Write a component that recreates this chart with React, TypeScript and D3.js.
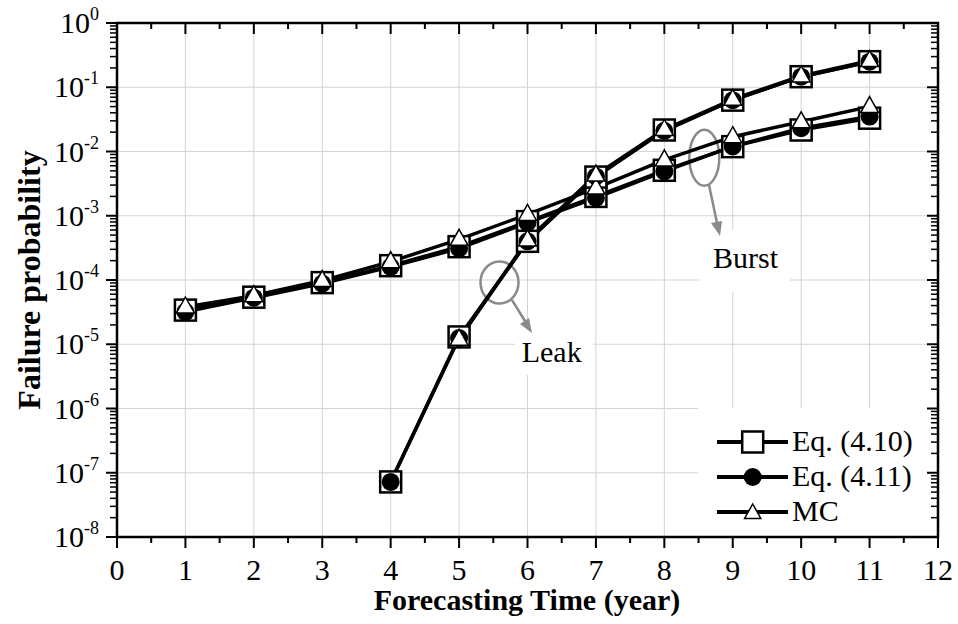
import React from "react";
import * as d3 from "d3";

const W = 958;
const H = 624;

const burstYears = [1, 2, 3, 4, 5, 6, 7, 8, 9, 10, 11];
const burstEq410 = [3.4e-5, 5.4e-5, 9.1e-5, 1.67e-4, 3.3e-4, 8.1e-4, 2.0e-3, 5.1e-3, 1.19e-2, 2.16e-2, 3.3e-2];
const burstEq411 = [3.2e-5, 5.3e-5, 8.8e-5, 1.6e-4, 3.1e-4, 7.8e-4, 1.9e-3, 4.9e-3, 1.2e-2, 2.3e-2, 3.5e-2];
const burstMC = [3.8e-5, 5.7e-5, 9.8e-5, 1.93e-4, 4.3e-4, 1.05e-3, 2.7e-3, 7.4e-3, 1.7e-2, 2.9e-2, 5.0e-2];

const leakYears = [4, 5, 6, 7, 8, 9, 10, 11];
const leakEq410 = [7.2e-8, 1.3e-5, 4.0e-4, 4.0e-3, 2.16e-2, 6.3e-2, 0.146, 0.25];
const leakEq411 = [7.2e-8, 1.25e-5, 4.0e-4, 4.1e-3, 2.1e-2, 6.3e-2, 0.146, 0.25];
const leakMCYears = [5, 6, 7, 8, 9, 10, 11];
const leakMC = [1.2e-5, 4.2e-4, 4.3e-3, 2.2e-2, 6.5e-2, 0.15, 0.26];

const xTicks = [0, 1, 2, 3, 4, 5, 6, 7, 8, 9, 10, 11, 12];
const yExponents = [0, -1, -2, -3, -4, -5, -6, -7, -8];
const legendLabels = ["Eq. (4.10)", "Eq. (4.11)", "MC"];

const FONT = "'Liberation Serif', 'Times New Roman', serif";

const x = d3.scaleLinear().domain([0, 12]).range([117, 938]);
const y = d3.scaleLog().domain([1e-8, 1]).range([537, 23]);

type P = [number, number];
const zip = (xs: number[], ys: number[]): P[] => xs.map((v, i) => [v, ys[i]]);

const line = d3
  .line<P>()
  .x((d) => x(d[0]))
  .y((d) => y(d[1]));

const tri = (cx: number, cy: number, s = 1) =>
  `M${cx},${cy - 10 * s}L${cx + 9 * s},${cy + 6 * s}L${cx - 9 * s},${cy + 6 * s}Z`;

const Square = ({ cx, cy, s = 1 }: { cx: number; cy: number; s?: number }) => (
  <rect x={cx - 10.5 * s} y={cy - 10.5 * s} width={21 * s} height={21 * s} fill="#fff" stroke="#000" strokeWidth={2.5} />
);
const Dot = ({ cx, cy, s = 1 }: { cx: number; cy: number; s?: number }) => (
  <circle cx={cx} cy={cy} r={9 * s} fill="#000" />
);
const Tri = ({ cx, cy, s = 1 }: { cx: number; cy: number; s?: number }) => (
  <path d={tri(cx, cy, s)} fill="#fff" stroke="#000" strokeWidth={1.5} />
);

export default function App() {
  const squares = [...zip(burstYears, burstEq410), ...zip(leakYears, leakEq410)];
  const dots = [...zip(burstYears, burstEq411), ...zip(leakYears, leakEq411)];
  const tris = [...zip(burstYears, burstMC), ...zip(leakMCYears, leakMC)];
  const lines = [
    zip(burstYears, burstEq410),
    zip(burstYears, burstEq411),
    zip(burstYears, burstMC),
    zip(leakYears, leakEq410),
    zip(leakYears, leakEq411),
    zip(leakMCYears, leakMC),
  ];

  const [x0, x1] = x.range();
  const [yb, yt] = y.range();

  const minorX = d3.range(0.5, 12, 1);
  const minorY: number[] = [];
  for (let e = -8; e < 0; e++) for (let k = 2; k <= 9; k++) minorY.push(k * Math.pow(10, e));

  const legendRows = [442, 477, 512];

  return (
    <svg width={W} height={H} style={{ position: "absolute", left: 0, top: 0, background: "#fff" }} fontFamily={FONT}>
      <rect x={0} y={0} width={W} height={H} fill="#fff" />
      {/* grid */}
      {xTicks.slice(1, -1).map((t) => (
        <line key={"gx" + t} x1={x(t)} x2={x(t)} y1={yt} y2={yb} stroke="#d4d4d4" strokeWidth={1} />
      ))}
      {yExponents.slice(1, -1).map((e) => (
        <line key={"gy" + e} x1={x0} x2={x1} y1={y(Math.pow(10, e))} y2={y(Math.pow(10, e))} stroke="#d4d4d4" strokeWidth={1} />
      ))}
      {/* white label backgrounds */}
      <rect x={698} y={408} width={238} height={128} fill="#fff" />
      <rect x={700} y={230} width={90} height={62} fill="#fff" />
      <rect x={515} y={322} width={78} height={53} fill="#fff" />

      {/* annotations */}
      <g stroke="#8a8a8a" fill="none" strokeWidth={2.5}>
        <ellipse cx={499.5} cy={282.5} rx={19} ry={21} />
        <ellipse cx={704.3} cy={157.7} rx={15} ry={28} />
        <line x1={512} y1={300} x2={525} y2={321} />
        <line x1={709} y1={185} x2={717} y2={223} />
      </g>
      <path d="M532,333 L520,324 L529,318 Z" fill="#8a8a8a" />
      <path d="M720,236 L711,223 L722,221 Z" fill="#8a8a8a" />
      <text x={521.7} y={361.7} fontSize={30} fill="#000">Leak</text>
      <text x={713} y={268} fontSize={30} fill="#000">Burst</text>

      {/* lines */}
      {lines.map((l, i) => (
        <path key={"l" + i} d={line(l) || ""} fill="none" stroke="#000" strokeWidth={3.5} strokeLinejoin="round" />
      ))}
      {/* markers */}
      {squares.map((d, i) => (
        <Square key={"s" + i} cx={x(d[0])} cy={y(d[1])} />
      ))}
      {dots.map((d, i) => (
        <Dot key={"c" + i} cx={x(d[0])} cy={y(d[1])} />
      ))}
      {tris.map((d, i) => (
        <Tri key={"t" + i} cx={x(d[0])} cy={y(d[1])} />
      ))}

      {/* axes frame */}
      <rect x={x0} y={yt} width={x1 - x0} height={yb - yt} fill="none" stroke="#000" strokeWidth={2.5} />
      {/* bottom ticks (outward) */}
      {xTicks.map((t) => (
        <line key={"bx" + t} x1={x(t)} x2={x(t)} y1={yb} y2={yb + 11} stroke="#000" strokeWidth={2} />
      ))}
      {minorX.map((t) => (
        <line key={"bmx" + t} x1={x(t)} x2={x(t)} y1={yb} y2={yb + 6} stroke="#000" strokeWidth={2} />
      ))}
      {/* top ticks (inward) */}
      {xTicks.map((t) => (
        <line key={"tx" + t} x1={x(t)} x2={x(t)} y1={yt} y2={yt + 11} stroke="#000" strokeWidth={2} />
      ))}
      {minorX.map((t) => (
        <line key={"tmx" + t} x1={x(t)} x2={x(t)} y1={yt} y2={yt + 6} stroke="#000" strokeWidth={2} />
      ))}
      {/* left ticks (outward) */}
      {yExponents.map((e) => (
        <line key={"ly" + e} x1={x0 - 11} x2={x0} y1={y(Math.pow(10, e))} y2={y(Math.pow(10, e))} stroke="#000" strokeWidth={2} />
      ))}
      {minorY.map((v, i) => (
        <line key={"lmy" + i} x1={x0 - 7} x2={x0} y1={y(v)} y2={y(v)} stroke="#000" strokeWidth={1.5} />
      ))}
      {/* right ticks (inward) */}
      {yExponents.map((e) => (
        <line key={"ry" + e} x1={x1 - 11} x2={x1} y1={y(Math.pow(10, e))} y2={y(Math.pow(10, e))} stroke="#000" strokeWidth={2} />
      ))}
      {minorY.map((v, i) => (
        <line key={"rmy" + i} x1={x1 - 7} x2={x1} y1={y(v)} y2={y(v)} stroke="#000" strokeWidth={1.5} />
      ))}

      {/* tick labels */}
      {xTicks.map((t) => (
        <text key={"xl" + t} x={x(t)} y={580} fontSize={30} textAnchor="middle" fill="#000">
          {t}
        </text>
      ))}
      {yExponents.map((e) => (
        <text key={"yl" + e} x={99} y={y(Math.pow(10, e)) + 10} fontSize={30} textAnchor="end" fill="#000">
          10
          <tspan fontSize={18} dy={-13}>
            {e}
          </tspan>
        </text>
      ))}

      {/* axis titles */}
      <text x={527} y={610} fontSize={30} fontWeight="bold" textAnchor="middle" fill="#000">
        Forecasting Time (year)
      </text>
      <text
        transform={`translate(40,${(yt + yb) / 2}) rotate(-90)`}
        fontSize={32}
        fontWeight="bold"
        textAnchor="middle"
        fill="#000"
      >
        Failure probability
      </text>

      {/* legend */}
      {legendRows.map((ry, i) => (
        <g key={"lg" + i}>
          <line x1={717} x2={788} y1={ry} y2={ry} stroke="#000" strokeWidth={4} />
          {i === 0 && <Square cx={752.7} cy={ry} />}
          {i === 1 && <Dot cx={752.7} cy={ry} />}
          {i === 2 && <Tri cx={752.7} cy={ry + 1} s={0.9} />}
          <text x={792} y={ry + 8.5} fontSize={30} fill="#000">
            {legendLabels[i]}
          </text>
        </g>
      ))}
    </svg>
  );
}
